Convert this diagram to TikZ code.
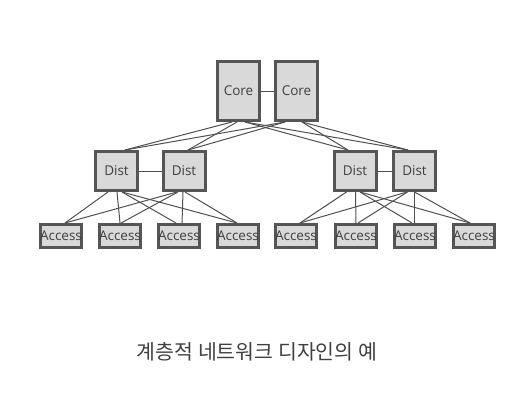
\documentclass[tikz,border=0pt]{standalone}
\usepackage{fontspec}
\setmainfont{Open Sans}
\newfontfamily\krfont{Noto Sans CJK KR}
\definecolor{boxfill}{HTML}{D9D9D9}
\definecolor{boxline}{HTML}{555555}
\definecolor{txt}{HTML}{404040}
\definecolor{wire}{HTML}{505050}
\begin{document}
\begin{tikzpicture}[x=1pt,y=-1pt,
  dev/.style={draw=boxline,line width=3pt,fill=boxfill,text=txt,inner sep=0pt,font=\fontsize{13.5}{15}\selectfont},
  corebox/.style={dev,minimum width=42pt,minimum height=59pt},
  distbox/.style={dev,minimum width=42pt,minimum height=39pt},
  accbox/.style={dev,text width=41pt,align=center,minimum height=23pt},
  wire/.style={draw=wire,line width=1pt}]
\useasboundingbox (0,0) rectangle (529,394);
% core
\node[corebox] (c1) at (238.5,91) {Core};
\node[corebox] (c2) at (296.5,91) {Core};
% dist
\node[distbox] (d1) at (116.5,171) {Dist};
\node[distbox] (d2) at (184,171) {Dist};
\node[distbox] (d3) at (355,171) {Dist};
\node[distbox] (d4) at (414.5,171) {Dist};
% access
\foreach \i/\x in {1/61,2/120,3/179,4/238,5/296,6/356,7/415,8/474}
  \node[accbox] (a\i) at (\x,236) {\makebox[0pt]{Access}};
% links same layer
\draw[wire] (c1.east) -- (c2.west);
\draw[wire] (d1.east) -- (d2.west);
\draw[wire] (d3.east) -- (d4.west);
% core -> dist
\draw[wire] ([xshift=-6.5pt]c1.south) -- ([xshift=8.5pt]d1.north);
\draw[wire] ([xshift=-1.5pt]c1.south) -- ([xshift=4pt]d2.north);
\draw[wire] ([xshift=6.5pt]c1.south) -- ([xshift=-7pt]d3.north);
\draw[wire] ([xshift=6.5pt]c1.south) -- ([xshift=-6.5pt]d4.north);
\draw[wire] ([xshift=-11.5pt]c2.south) -- ([xshift=8.5pt]d1.north);
\draw[wire] ([xshift=-11.5pt]c2.south) -- ([xshift=4pt]d2.north);
\draw[wire] ([xshift=5.5pt]c2.south) -- ([xshift=-7pt]d3.north);
\draw[wire] ([xshift=5.5pt]c2.south) -- ([xshift=-6.5pt]d4.north);
% dist -> access (left)
\draw[wire] ([xshift=-8.5pt]d1.south) -- ([xshift=4pt]a1.north);
\draw[wire] ([xshift=0.5pt]d1.south) -- ([xshift=0pt]a2.north);
\draw[wire] ([xshift=5.5pt]d1.south) -- ([xshift=-3pt]a3.north);
\draw[wire] ([xshift=5.5pt]d1.south) -- ([xshift=-1pt]a4.north);
\draw[wire] ([xshift=-7pt]d2.south) -- ([xshift=4pt]a1.north);
\draw[wire] ([xshift=-6pt]d2.south) -- ([xshift=1pt]a2.north);
\draw[wire] ([xshift=-1pt]d2.south) -- ([xshift=3pt]a3.north);
\draw[wire] ([xshift=1pt]d2.south) -- ([xshift=-1pt]a4.north);
% dist -> access (right)
\draw[wire] ([xshift=-8.5pt]d3.south) -- ([xshift=4pt]a5.north);
\draw[wire] ([xshift=0.5pt]d3.south) -- ([xshift=0pt]a6.north);
\draw[wire] ([xshift=5pt]d3.south) -- ([xshift=-3pt]a7.north);
\draw[wire] ([xshift=5pt]d3.south) -- ([xshift=-4pt]a8.north);
\draw[wire] ([xshift=-7.5pt]d4.south) -- ([xshift=4pt]a5.north);
\draw[wire] ([xshift=-7pt]d4.south) -- ([xshift=2pt]a6.north);
\draw[wire] ([xshift=-0.5pt]d4.south) -- ([xshift=-1pt]a7.north);
\draw[wire] ([xshift=0pt]d4.south) -- ([xshift=-4pt]a8.north);
% caption
\node[text=txt,font=\krfont\fontsize{20.5}{22}\selectfont] (cap) at (257,352) {계층적 네트워크 디자인의 예};
\end{tikzpicture}
\end{document}
